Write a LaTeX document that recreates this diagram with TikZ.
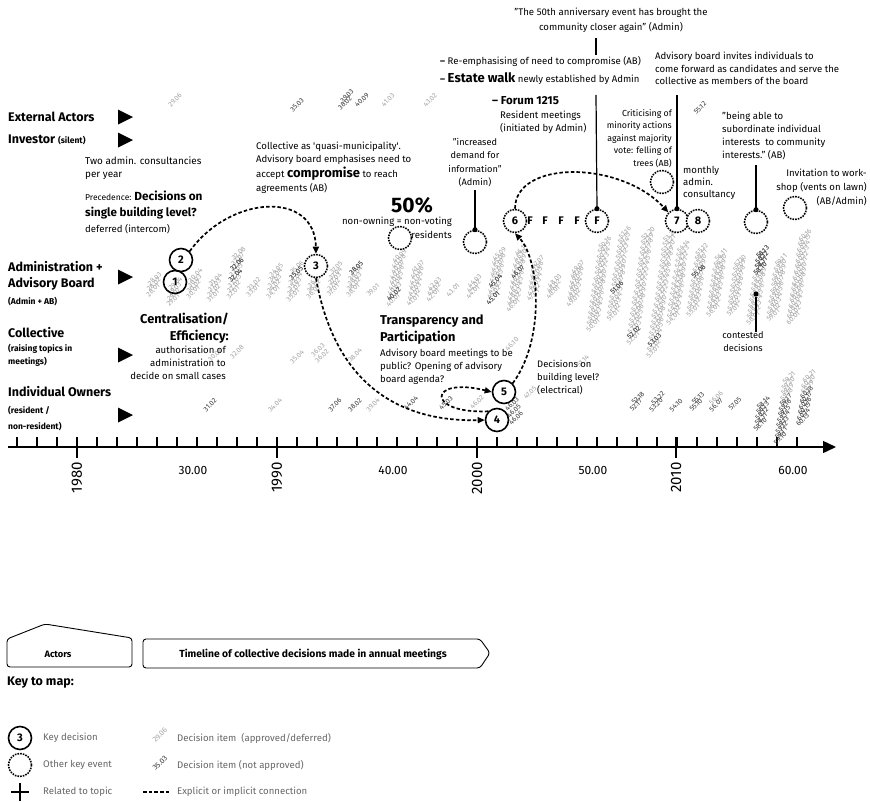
\documentclass[tikz,border=0pt]{standalone}
\usepackage{fontspec}
\setmainfont{Fira Sans}
\usetikzlibrary{arrows.meta}
\definecolor{itemgray}{gray}{0.64}
\definecolor{itemdark}{gray}{0.22}
\definecolor{keygray}{gray}{0.4}

% decision item #1.#2 in a column whose foot is at y=#3
\newcommand\decitem[4]{%
  \pgfmathsetmacro\ix{20*#1-407+0.8*(#2-1)}%
  \pgfmathsetmacro\iy{#3-5.5*(#2-1)}%
  \ifnum#2<10 \edef\isuf{0#2}\else\edef\isuf{#2}\fi
  \node[#4] (d#1-#2) at (\ix,\iy) {#1.\isuf};}

\begin{document}
\begin{tikzpicture}[x=1pt,y=-1pt,
    actor/.style={anchor=west,inner sep=0pt,font=\fontsize{12.5}{14}\selectfont\bfseries},
    actorsub/.style={anchor=west,inner sep=0pt,font=\fontsize{8.5}{9}\selectfont\bfseries},
    note/.style={inner sep=0pt,font=\fontsize{9.6}{13}\selectfont},
    head/.style={inner sep=0pt,font=\fontsize{12.8}{17}\selectfont\bfseries},
    item/.style={rotate=45,inner sep=0pt,text=itemgray,font=\fontsize{7}{7}\selectfont},
    itemno/.style={item,text=itemdark},
    keydec/.style={circle,draw,line width=1.6pt,minimum size=23pt,inner sep=0pt,
      font=\fontsize{11}{11}\selectfont\bfseries},
    keyevent/.style={keydec,fill=white,dash pattern=on 1.6pt off 1.1pt},
    link/.style={line width=1.7pt,dash pattern=on 3.5pt off 2.2pt,
      -{Triangle[length=7pt,width=6pt]}},
    pointer/.style={line width=1.2pt},
    dot/.style={circle,fill,inner sep=1.8pt},
    yearlab/.style={rotate=90,anchor=east,inner sep=0pt,font=\fontsize{15}{15}\selectfont},
    meetlab/.style={inner sep=0pt,font=\fontsize{12}{12}\selectfont},
    keytext/.style={anchor=west,inner sep=0pt,text=keygray,font=\fontsize{9.6}{10}\selectfont}]

\useasboundingbox[fill=white] (0,0) rectangle (870,803);

% actors
\node[actor] (ext) at (8,117) {External Actors};
\node[actor] (inv) at (8,140) {Investor {\fontsize{8.5}{9}\selectfont(silent)}};
\node[actor] (adm1) at (8,267) {Administration +};
\node[actor] (adm2) at (8,284) {Advisory Board};
\node[actorsub] (adm3) at (8,302) {(Admin + AB)};
\node[actor] (col1) at (8,333) {Collective};
\node[actorsub] (col2) at (8,349) {(raising topics in};
\node[actorsub] (col3) at (8,362) {meetings)};
\node[actor] (own1) at (8,392) {Individual Owners};
\node[actorsub] (own2) at (8,411) {(resident /};
\node[actorsub] (own3) at (8,427) {non-resident)};
\foreach \ty in {117,140,277,355,415}
  \fill (118,\ty-7.5) -- (133,\ty) -- (118,\ty+7.5) -- cycle;

% time axis
\draw[line width=1.4pt,-{Triangle[length=13pt,width=12pt]}] (8,447) -- (836,447);
\foreach \k in {0,...,39}
  \draw[line width=1.1pt] (17+20*\k,437) -- (17+20*\k,447);
\foreach \xx/\yr in {77/1980,277/1990,477/2000,676/2010}{
  \draw[line width=1.1pt] (\xx,437) -- (\xx,458);
  \node[yearlab] (y\yr) at (\xx,462) {\yr};
}
\foreach \mm in {30,40,50,60}
  \node[meetlab] (m\mm) at (20*\mm-407,470) {\mm.00};

% decision items, administration row
\foreach \m/\n/\b in {28/3/290,29/4/300,30/4/292,31/4/296,32/8/292,33/2/290,
    34/5/292,35/6/295,36/3/292,37/5/290,38/5/290,39/1/290,40/9/300,41/7/300,
    42/3/295,43/1/290,44/3/292,45/9/298,46/11/305,47/7/295,48/3/292,49/7/300,
    50/16/325,51/16/315,52/20/338,53/22/351,54/14/318,55/12/310,56/11/310,
    57/10/310,58/13/318,59/11/315,60/16/318}
  \foreach \i in {1,...,\n}{\decitem{\m}{\i}{\b}{item}}
\foreach \m/\i/\b in {32/4/292,32/6/292,35/5/295,38/5/290,40/2/300,45/1/298,
    45/4/298,46/7/305,51/6/315,52/2/338,53/3/351,55/8/310,58/10/318,58/11/318,
    58/12/318,58/13/318}
  {\decitem{\m}{\i}{\b}{itemno}}
% decision items, owners row
\foreach \m/\i/\b in {58/10/474,58/11/474,58/12/474,58/13/474,58/14/474,
    59/10/488,59/11/488,59/12/488,59/13/488,59/14/488,59/15/488,59/16/488,59/17/488,
    60/13/486,60/14/486,60/15/486,60/16/486,60/17/486,60/18/486}
  {\decitem{\m}{\i}{\b}{itemno}}
\foreach \m/\i/\b in {59/18/488,59/19/488,59/20/488,59/21/488,
    60/19/486,60/20/486,60/21/486}
  {\decitem{\m}{\i}{\b}{item}}
\foreach \t/\x/\y in {31.02/210/405,37.06/335/405,38.02/355/405,44.04/411/403,
    45.03/446/403,46.03/512/404,46.05/514/411,46.06/516/418,52.17/636/405,
    52.18/638/398,53.20/656/405,53.22/658/398,54.10/676/405,55.10/696/405,
    55.13/698/398,56.07/716/405,57.05/735/404,35.03/297/105,38.02/345/103,
    39.03/347/96,40.09/362/100,55.12/700/108}
  \node[itemno] (o\x-\y) at (\x,\y) {\t};
\foreach \t/\x/\y in {34.04/275/405,39.04/373/405,46.02/477/402,47.05/530/393,
    56.06/716/398,30.02/215/355,32.08/237/352,35.04/297/357,36.03/318/350,
    36.02/322/356,38.04/355/355,46.10/512/344,51.14/583/361,29.06/175/100,
    41.03/388/100,43.02/430/100}
  \node[item] (g\x-\y) at (\x,\y) {\t};

% notes
\node[note,anchor=north west,align=left,font=\fontsize{9.9}{13}\selectfont] (cons) at (85,157)
  {Two admin. consultancies\\per year};
\node[note,anchor=west,font=\fontsize{8.5}{13}\selectfont] (prec) at (85,196)
  {Precedence: {\fontsize{11.8}{13}\selectfont\bfseries Decisions on}};
\node[head,anchor=west,font=\fontsize{11.6}{13}\selectfont\bfseries] (prec2) at (85,213) {single building level?};
\node[note,anchor=west] (prec3) at (85,229) {deferred (intercom)};
\node[note,anchor=west] (quasi1) at (256,147) {Collective as \textquotesingle quasi-municipality\textquotesingle.};
\node[note,anchor=west] (quasi2) at (256,160) {Advisory board emphasises need to};
\node[note,anchor=west] (quasi3) at (256,174)
  {accept {\fontsize{13}{13}\selectfont\bfseries compromise} to reach};
\node[note,anchor=west] (quasi4) at (256,188) {agreements (AB)};
\node[inner sep=0pt,font=\fontsize{21}{21}\selectfont\bfseries] (half) at (412,205) {50\%};
\node[note] (nonown) at (397,222) {non-owning = non-voting};
\node[note,anchor=east] (resid) at (452,235) {residents};
\node[note,align=center,font=\fontsize{9.2}{13.5}\selectfont] (info) at (475,162.5)
  {"increased\\demand for\\information"\\(Admin)};
\node[note,anchor=west] (re1) at (440,61) {\textbf{--} Re-emphasising of need to compromise (AB)};
\node[note,anchor=west] (re2) at (440,79)
  {\textbf{--} {\fontsize{13}{13}\selectfont\bfseries Estate walk} newly established by Admin};
\node[head,anchor=west,font=\fontsize{11.5}{13}\selectfont\bfseries] (forum) at (492,101) {-- Forum 1215};
\node[note,anchor=north west,align=left] (resmeet) at (500,111)
  {Resident meetings\\(initiated by Admin)};
\node[note,align=center,font=\fontsize{9.6}{15}\selectfont] (q50) at (611,20)
  {"The 50th anniversary event has brought the\\community closer again" (Admin)};
\node[note,anchor=north west,align=left,font=\fontsize{9.6}{12.5}\selectfont] (invite) at (655,52)
  {Advisory board invites individuals to\\come forward as candidates and serve the\\collective as members of the board};
\node[note,anchor=north east,align=right,font=\fontsize{8.8}{12.5}\selectfont] (crit) at (672,109)
  {Criticising of\\minority actions\\against majority\\vote: felling of\\trees (AB)};
\node[note,anchor=north west,align=left,font=\fontsize{9.6}{12}\selectfont] (monthly) at (683,166)
  {monthly\\admin.\\consultancy};
\node[note,anchor=north west,align=left] (subord) at (722,112)
  {"being able to\\subordinate individual\\interests\ \ to community\\interests." (AB)};
\node[note,anchor=north east,align=right,font=\fontsize{9.6}{14}\selectfont] (workshop) at (867,169)
  {Invitation to work-\\shop (vents on lawn)\\(AB/Admin)};
\node[note,align=center,font=\fontsize{9.2}{13}\selectfont] (cont) at (743,342) {contested\\decisions};
\node[head,anchor=north east,align=right] (central) at (229,313) {Centralisation/\\Efficiency:};
\node[note,anchor=north east,align=right] (auth) at (226,346)
  {authorisation of\\administration to\\decide on small cases};
\node[head,anchor=north west,align=left] (transp) at (380,315)
  {Transparency and\\Participation};
\node[note,anchor=north west,align=left] (abmeet) at (380,349)
  {Advisory board meetings to be\\public? Opening of advisory\\board agenda?};
\node[note,anchor=north west,align=left,font=\fontsize{9.4}{13}\selectfont] (elec) at (537,360)
  {Decisions on\\building level?\\(electrical)};

% key decisions and other events
\node[keydec] (k1) at (175,282) {1};
\node[keydec] (k2) at (181,260) {2};
\node[keyevent] (k3) at (316,266) {3};
\node[keydec] (k4) at (497,420) {4};
\node[keydec] (k5) at (504,392) {5};
\node[keyevent] (k6) at (515,221) {6};
\node[keyevent] (kF) at (597,221) {F};
\node[keyevent] (k7) at (677,221) {7};
\node[keyevent] (k8) at (698,221) {8};
\foreach \fx in {530,545,561,577}
  \node[inner sep=0pt,font=\fontsize{11}{11}\selectfont\bfseries] (f\fx) at (\fx,221) {F};
\node[keyevent] (e50) at (400,238) {};
\node[keyevent] (einfo) at (475,242) {};
\node[keyevent] (etrees) at (662,182) {};
\node[keyevent] (e58) at (756,222) {};
\node[keyevent] (eshop) at (795,208) {};

% pointers
\coordinate (pq1) at (596,38);
\coordinate (pq2) at (596,55);
\coordinate (pF) at (596,95);
\coordinate (p7) at (677,95);
\coordinate (p58) at (756,165);
\coordinate (pinfo) at (475,190);
\draw[pointer] (pq1) -- (pq2);
\draw[pointer] (pF) -- (kF.north) node[dot] (dF) {};
\draw[pointer] (p7) -- (k7.north) node[dot] (d7) {};
\draw[pointer] (p58) -- (e58.north) node[dot] (d58) {};
\draw[pointer] (pinfo) -- (einfo.north) node[dot] (dinfo) {};
\node[dot] (dcont) at (756,294) {};
\draw[pointer] (dcont) -- (dcont |- cont.north);

% connections
\draw[link] (k2.north east) .. controls (230,195) and (315,190) .. (k3.north);
\draw[link] (k3.south) .. controls (335,385) and (400,422) .. (k4.west);
\draw[link] (k4.north west) .. controls (425,414) and (428,376) .. (k5.west);
\draw[link] (k5.north east) .. controls (545,340) and (540,260) .. (k6.south);
\draw[link] (k6.north) .. controls (515,160) and (620,160) .. (k7.north west);

% legend
\draw[line width=0.9pt,rounded corners=3pt] (7,667) -- (7,639) -- (45,624) -- (132,638)
  -- (132,667) -- cycle;
\draw[line width=0.9pt,rounded corners=3pt] (143,639) -- (480,639) -- (490,653)
  -- (480,668) -- (143,668) -- cycle;
\node[inner sep=0pt,font=\fontsize{9.3}{10}\selectfont\bfseries] (lact) at (58,654) {Actors};
\node[inner sep=0pt,font=\fontsize{10.3}{11}\selectfont\bfseries] (ltime) at (313,654)
  {Timeline of collective decisions made in annual meetings};
\node[actor] (key) at (7,683) {Key to map:};
\node[keydec] (lk) at (20,738) {3};
\node[keyevent] (le) at (20,765) {};
\draw[line width=1.6pt] (11,792) -- (29,792) (20,783) -- (20,801);
\node[keytext] (lt1) at (43,738) {Key decision};
\node[keytext] (lt2) at (43,765) {Other key event};
\node[keytext] (lt3) at (43,792) {Related to topic};
\node[item,font=\fontsize{7.5}{7.5}\selectfont] (li1) at (160,735) {29.06};
\node[itemno,font=\fontsize{7.5}{7.5}\selectfont] (li2) at (160,763) {35.03};
\draw[line width=1.7pt,dash pattern=on 3.5pt off 2.2pt] (143,792) -- (170,792);
\node[keytext] (lt4) at (177,738) {Decision item\ \ (approved/deferred)};
\node[keytext] (lt5) at (177,765) {Decision item (not approved)};
\node[keytext] (lt6) at (177,792) {Explicit or implicit connection};
\end{tikzpicture}
\end{document}
